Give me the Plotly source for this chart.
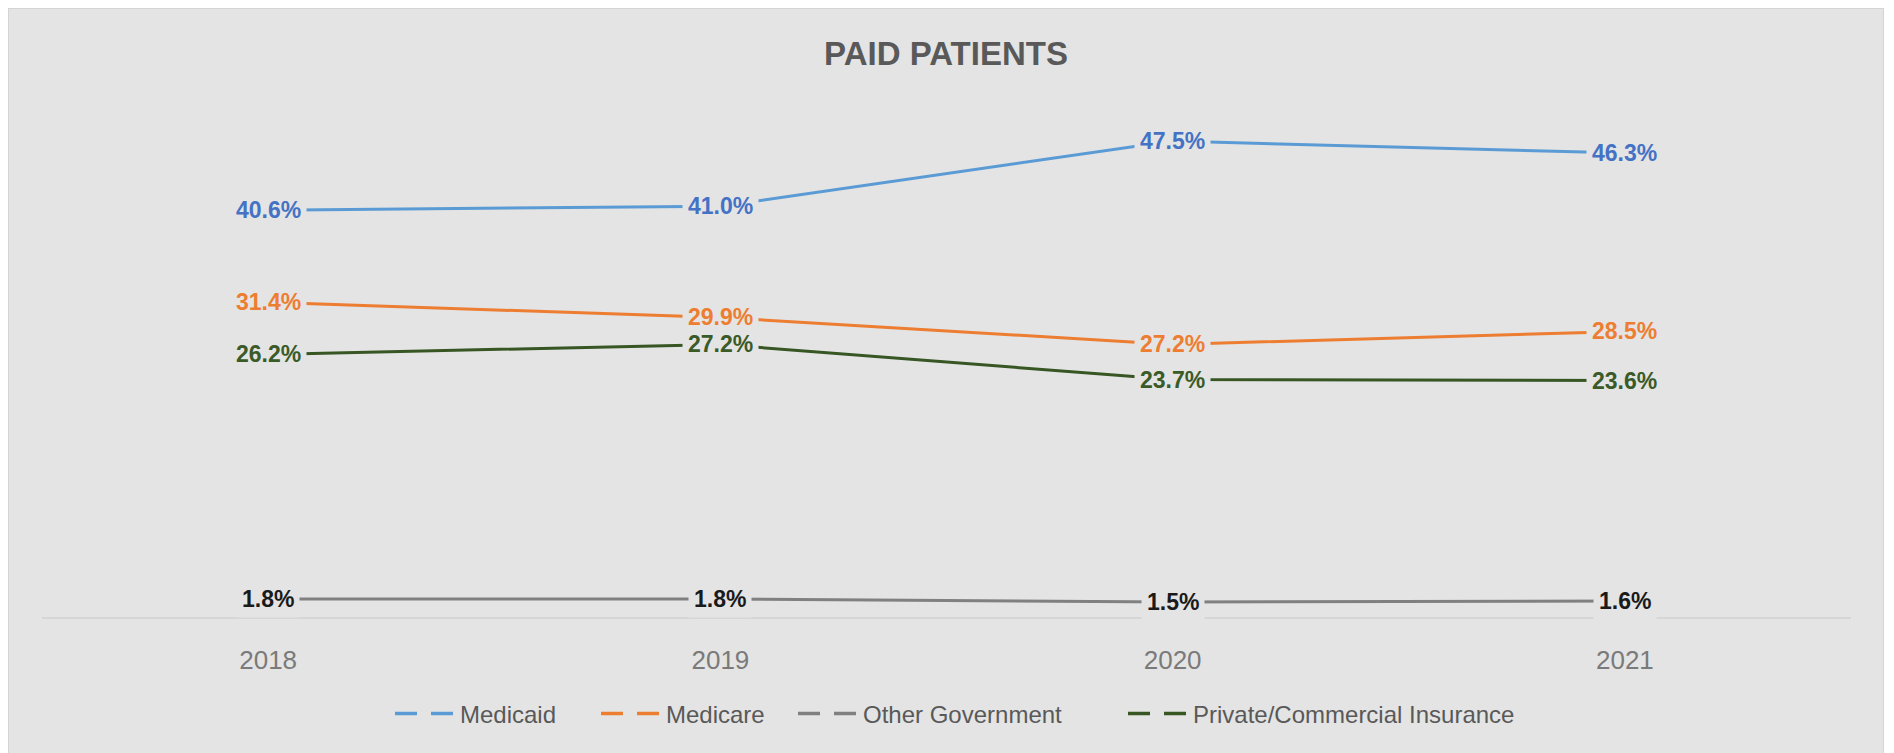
import plotly.graph_objects as go

years = ["2018", "2019", "2020", "2021"]
medicaid = [40.6, 41.0, 47.5, 46.3]
medicare = [31.4, 29.9, 27.2, 28.5]
other_gov = [1.8, 1.8, 1.5, 1.6]
private = [26.2, 27.2, 23.7, 23.6]

series = [
    ("Medicaid", medicaid, "#5b9bd5", "#4472c4"),
    ("Medicare", medicare, "#ed7d31", "#ed7d31"),
    ("Other Government", other_gov, "#808080", "#1a1a1a"),
    ("Private/Commercial Insurance", private, "#375623", "#3a5a27"),
]
# left edge of each legend entry (page px in the reference)
legend_left = [394, 600, 797, 1127]

BG = "#e4e4e4"
FONT = "Liberation Sans, Arial, sans-serif"
OFF = 8  # default body margin of the html page
W, H = 1876, 745
ML, MR, MT, MB = 34, 33, 108, 136
PW = W - ML - MR
PH = H - MT - MB

fig = go.Figure()
annotations = []
for name, vals, lc, tc in series:
    fig.add_trace(go.Scatter(
        x=years, y=vals, mode="lines", name=name, showlegend=False,
        line=dict(color=lc, width=3), hoverinfo="skip",
    ))
    for i, v in enumerate(vals):
        annotations.append(dict(
            x=i, y=v, xref="x", yref="y", text=f"<b>{v:.1f}%</b>", showarrow=False,
            font=dict(family=FONT, size=23, color=tc),
            bgcolor=BG, borderpad=5, xanchor="center", yanchor="middle",
        ))

legend_layouts = {}
for k, ((name, vals, lc, tc), lx) in enumerate(zip(series, legend_left)):
    lname = "legend" if k == 0 else f"legend{k + 1}"
    fig.add_trace(go.Scatter(
        x=[None], y=[None], mode="lines", name=name, legend=lname,
        line=dict(color=lc, width=3.5, dash="22px,14px"),
    ))
    legend_layouts[lname] = dict(
        orientation="h", x=(lx - OFF - ML - 4) / PW, xanchor="left",
        y=(PH - (714 - OFF - MT)) / PH, yanchor="middle", itemwidth=60,
        font=dict(family=FONT, size=24, color="#595959"),
        bgcolor="rgba(0,0,0,0)",
    )

fig.update_layout(
    width=W, height=H,
    margin=dict(l=ML, r=MR, t=MT, b=MB),
    paper_bgcolor=BG,
    plot_bgcolor=BG,
    title=dict(
        text="<b>PAID PATIENTS</b>", x=(946 - OFF) / W, xanchor="center",
        y=1 - (53 - OFF) / H, yanchor="middle", yref="container",
        font=dict(family=FONT, size=33, color="#595959"),
    ),
    xaxis=dict(
        type="category", range=[-0.5, 3.5], showgrid=False, zeroline=False,
        showline=True, linecolor="#d6d6d6", linewidth=1.5,
        ticks="", ticklabelstandoff=19,
        tickfont=dict(family=FONT, size=26, color="#7a7a7a"),
    ),
    yaxis=dict(range=[0, 50], visible=False, showgrid=False, zeroline=False),
    annotations=annotations,
    shapes=[dict(
        type="rect", xref="paper", yref="paper", layer="below",
        x0=-ML / PW, x1=(W - ML) / PW,
        y0=-(MB + 6) / PH, y1=1 + MT / PH,
        fillcolor=BG, line=dict(color="#d4d4d4", width=2),
    )],
    **legend_layouts,
)

fig.write_html("out.html")
